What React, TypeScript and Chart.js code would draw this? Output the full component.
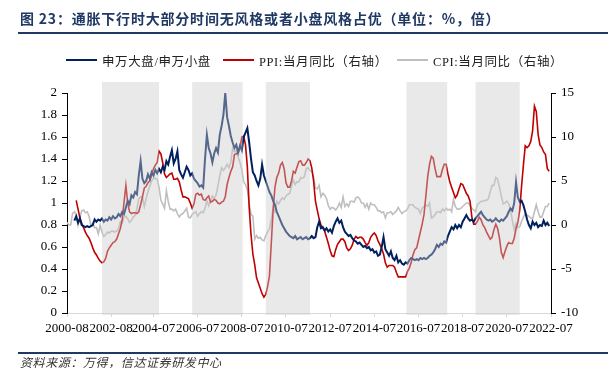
import React, { useEffect, useRef } from "react";
import { Chart, registerables } from "chart.js";

Chart.register(...registerables);

// Month index 0 = 2000-08
const xMax = 263;
const tickMonths = [0, 24, 47, 71, 95, 119, 143, 167, 191, 215, 239, 263];
const tickLabels = [
  "2000-08", "2002-08", "2004-07", "2006-07", "2008-07", "2010-07",
  "2012-07", "2014-07", "2016-07", "2018-07", "2020-07", "2022-07",
];

// 申万大盘/申万小盘 (left axis), starts at month index 4
const ratioStart = 4;
const ratio = [
  0.84, 0.88, 0.82, 0.86, 0.80, 0.79, 0.78, 0.79, 0.78, 0.79, 0.80, 0.85, 0.83,
  0.85, 0.84, 0.86, 0.83, 0.85, 0.84, 0.87, 0.85, 0.88, 0.86, 0.87, 0.90,
  0.88, 0.92, 0.90, 0.96, 1.02, 0.99, 1.07, 1.05, 1.10, 1.08, 1.25, 1.38,
  1.22, 1.18, 1.20, 1.26, 1.22, 1.28, 1.25, 1.30, 1.27, 1.31, 1.28, 1.33,
  1.30, 1.38, 1.35, 1.42, 1.48, 1.36, 1.40, 1.47, 1.30, 1.26, 1.23, 1.28,
  1.33, 1.30, 1.25, 1.27, 1.22, 1.20, 1.18, 1.15, 1.16, 1.14, 1.40, 1.62,
  1.50, 1.45, 1.37, 1.45, 1.50, 1.46, 1.62, 1.70, 1.80, 2.00, 1.78, 1.70,
  1.61, 1.55, 1.50, 1.53, 1.46, 1.52, 1.48, 1.60, 1.64, 1.68, 1.55, 1.40,
  1.28, 1.25, 1.20, 1.16, 1.22, 1.35, 1.25, 1.20, 1.15, 1.10, 1.07, 1.02,
  0.98, 0.92, 0.88, 0.84, 0.80, 0.77, 0.74, 0.72, 0.70, 0.69, 0.68, 0.70,
  0.67, 0.68, 0.69, 0.67, 0.68, 0.69, 0.67, 0.68, 0.70, 0.68, 0.69, 0.78,
  0.83, 0.77, 0.78, 0.75, 0.77, 0.74, 0.76, 0.73, 0.79, 0.83, 0.86, 0.82,
  0.84, 0.78, 0.74, 0.72, 0.70, 0.71, 0.68, 0.66, 0.65, 0.63, 0.64, 0.62,
  0.60, 0.61, 0.59, 0.60, 0.57, 0.58, 0.55, 0.56, 0.52, 0.53, 0.60, 0.69,
  0.58, 0.55, 0.52, 0.56, 0.50, 0.48, 0.52, 0.46, 0.48, 0.45, 0.44, 0.46,
  0.45, 0.48, 0.50, 0.49, 0.48, 0.49, 0.48, 0.50, 0.49, 0.50, 0.49, 0.50,
  0.52, 0.53, 0.55, 0.58, 0.62, 0.60, 0.63, 0.62, 0.65, 0.64, 0.70, 0.74,
  0.78, 0.76, 0.80, 0.77, 0.80, 0.78, 0.83, 0.86, 0.89, 0.86, 0.84, 0.85,
  0.83, 0.86, 0.88, 0.90, 0.92, 0.89, 0.87, 0.85, 0.84, 0.85, 0.83, 0.84,
  0.86, 0.84, 0.83, 0.85, 0.84, 0.86, 0.88, 0.92, 0.95, 0.93, 1.00, 1.19,
  1.05, 1.01, 1.02, 0.98, 0.92, 0.85, 0.80, 0.77, 0.83, 0.80, 0.82, 0.78,
  0.80, 0.79, 0.84, 0.80, 0.82, 0.79,
];

// PPI 当月同比 (right axis), starts at month index 5 (2001-01)
const ppiStart = 5;
const ppi = [
  2.8, 1.8, 0.8, 0.2, -0.3, -0.8, -1.2, -1.5, -2.0, -2.6, -3.1, -3.4,
  -3.8, -4.1, -4.3, -4.2, -3.8, -3.0, -2.6, -2.3, -2.0, -1.9, -1.6, -1.0,
  -0.4, 0.6, 2.6, 4.5, 2.5, 1.5, 1.3, 1.4, 1.4, 1.3, 1.5, 2.3,
  3.2, 4.2, 4.4, 4.8, 5.0, 5.7, 6.4, 6.8, 7.1, 8.4, 8.1, 7.1,
  5.8, 5.4, 5.6, 5.8, 5.9, 5.2, 5.2, 5.3, 4.9, 4.0, 3.2, 3.2,
  3.1, 3.0, 2.5, 1.9, 2.4, 3.5, 3.6, 3.4, 3.5, 2.9, 2.8, 3.1,
  3.3, 2.6, 2.7, 2.9, 2.8, 2.5, 2.4, 2.6, 2.7, 3.2, 4.6, 5.4,
  6.1, 6.6, 8.0, 8.1, 8.2, 8.8, 10.0, 10.1, 9.1, 6.6, 2.0, -1.1,
  -3.3, -4.5, -6.0, -6.6, -7.2, -7.8, -8.2, -7.9, -7.0, -5.8, -2.1, 1.7,
  4.3, 5.4, 5.9, 6.8, 7.1, 6.4, 4.8, 4.3, 4.3, 5.0, 6.1, 5.9,
  6.6, 7.2, 7.3, 6.8, 6.8, 7.1, 7.5, 7.3, 6.5, 5.0, 2.7, 1.7,
  0.7, 0.0, -0.3, -0.7, -1.4, -2.1, -2.9, -3.5, -3.6, -2.8, -2.2, -1.9,
  -1.6, -1.6, -1.9, -2.6, -2.9, -2.7, -2.3, -1.6, -1.3, -1.5, -1.4, -1.4,
  -1.6, -2.0, -2.3, -2.0, -1.4, -1.1, -0.9, -1.2, -1.8, -2.2, -2.7, -3.3,
  -4.3, -4.8, -4.6, -4.6, -4.6, -4.8, -5.4, -5.9, -5.9, -5.9, -5.9, -5.9,
  -5.3, -4.9, -4.3, -3.4, -2.8, -2.6, -1.7, -0.8, 0.1, 1.2, 3.3, 5.5,
  6.9, 7.8, 7.6, 6.4, 5.5, 5.5, 5.5, 6.3, 6.9, 6.9, 5.8, 4.9,
  4.3, 3.7, 3.1, 3.4, 4.1, 4.7, 4.6, 4.1, 3.6, 3.3, 2.7, 0.9,
  0.1, 0.1, 0.4, 0.9, 0.6, 0.0, -0.3, -0.8, -1.2, -1.6, -1.4, -0.5,
  0.1, -0.4, -1.5, -3.1, -3.7, -3.0, -2.4, -2.0, -2.1, -2.1, -1.5, -0.4,
  0.3, 1.7, 4.4, 6.8, 9.0, 8.8, 9.0, 9.5, 10.7, 13.5, 12.9, 10.3,
  9.1, 8.8, 8.3, 8.0, 6.4, 6.1,
];

// CPI 当月同比 (right axis), starts at month index 0 (2000-08)
const cpiStart = 0;
const cpi = [
  0.3, 0.0, 0.0, 1.3, 1.5,
  1.2, 0.0, 0.8, 1.6, 1.7, 1.4, 1.5, 1.0, -0.1, 0.2, -0.3, -0.3,
  -1.0, 0.0, -0.8, -1.3, -1.1, -0.8, -0.9, -0.7, -0.7, -0.8, -0.7, -0.4,
  0.4, 0.2, 0.9, 1.0, 0.7, 0.3, 0.5, 0.9, 1.1, 1.8, 3.0, 3.2,
  3.2, 2.1, 3.0, 3.8, 4.4, 5.0, 5.3, 5.3, 5.2, 4.3, 2.8, 2.4,
  1.9, 3.9, 2.7, 1.8, 1.8, 1.6, 1.8, 1.3, 0.9, 1.2, 1.3, 1.6,
  1.9, 0.9, 0.8, 1.2, 1.4, 1.5, 1.0, 1.3, 1.5, 1.4, 1.9, 2.8,
  2.2, 2.7, 3.3, 3.0, 3.4, 4.4, 5.6, 6.5, 6.2, 6.5, 6.9, 6.5,
  7.1, 8.7, 8.3, 8.5, 7.7, 7.1, 6.3, 4.9, 4.6, 4.0, 2.4, 1.2,
  1.0, -1.6, -1.2, -1.5, -1.4, -1.7, -1.8, -1.2, -0.8, -0.5, 0.6, 1.9,
  1.5, 2.7, 2.4, 2.8, 3.1, 2.9, 3.3, 3.5, 3.6, 4.4, 5.1, 4.6,
  4.9, 4.9, 5.4, 5.3, 5.5, 6.4, 6.5, 6.2, 6.1, 5.5, 4.2, 4.1,
  4.5, 3.2, 3.6, 3.4, 3.0, 2.2, 1.8, 2.0, 1.9, 1.7, 2.0, 2.5,
  2.0, 3.2, 2.1, 2.4, 2.1, 2.7, 2.7, 2.6, 3.1, 3.2, 3.0, 2.5,
  2.5, 2.0, 2.4, 1.8, 2.5, 2.3, 2.3, 2.0, 1.6, 1.6, 1.4, 1.5,
  0.8, 1.4, 1.4, 1.5, 1.2, 1.4, 1.6, 2.0, 1.6, 1.3, 1.5, 1.6,
  1.8, 2.3, 2.3, 2.3, 2.0, 1.9, 1.8, 1.3, 1.9, 2.1, 2.3, 2.1,
  2.5, 0.8, 0.9, 1.2, 1.5, 1.5, 1.4, 1.8, 1.6, 1.9, 1.7, 1.8,
  1.5, 2.9, 2.1, 1.8, 1.8, 1.9, 2.1, 2.3, 2.5, 2.5, 2.2, 1.9,
  1.7, 1.5, 2.3, 2.5, 2.7, 2.7, 2.8, 2.8, 3.0, 3.8, 4.5, 4.5,
  5.4, 5.2, 4.3, 3.3, 2.4, 2.5, 2.7, 2.4, 1.7, 0.5, -0.5, 0.2,
  -0.3, -0.2, 0.4, 0.9, 1.3, 1.1, 1.0, 0.8, 0.7, 1.5, 2.3, 1.5,
  0.9, 0.9, 1.5, 2.1, 2.1, 2.5,
];

// Shaded periods (month index)
const bandStart = [19, 68, 108, 184.5, 222];
const bandEnd = [50, 95.5, 132, 206.6, 246];
const bandTopValue = 2.1;

const seriesNames = ["申万大盘/申万小盘", "PPI:当月同比（右轴）", "CPI:当月同比（右轴）"];
const seriesColors = ["#002060", "#C00000", "#BFBFBF"];

const toPoints = (start: number, arr: number[]) => arr.map((v, i) => ({ x: start + i, y: v }));

const tickFont = { family: '"Liberation Serif", "Times New Roman", serif', size: 13 };

const bandPlugin = {
  id: "bands",
  afterDatasetsDraw(chart: any) {
    const { ctx, scales } = chart;
    const xs = scales.x;
    const ys = scales.y;
    ctx.save();
    ctx.fillStyle = "rgba(202,202,202,0.42)";
    const top = ys.getPixelForValue(bandTopValue);
    const bottom = ys.getPixelForValue(0) + 2;
    for (let i = 0; i < bandStart.length; i++) {
      const x1 = xs.getPixelForValue(bandStart[i]);
      const x2 = xs.getPixelForValue(bandEnd[i]);
      ctx.fillRect(x1, top, x2 - x1, bottom - top);
    }
    ctx.restore();
  },
};

function ChartCanvas() {
  const ref = useRef<HTMLCanvasElement | null>(null);
  useEffect(() => {
    if (!ref.current) return;
    const chart = new Chart(ref.current, {
      type: "line",
      data: {
        datasets: [
          {
            label: seriesNames[0],
            data: toPoints(ratioStart, ratio),
            borderColor: seriesColors[0],
            borderWidth: 2,
            pointRadius: 0,
            yAxisID: "y",
          },
          {
            label: seriesNames[1],
            data: toPoints(ppiStart, ppi),
            borderColor: seriesColors[1],
            borderWidth: 1.6,
            pointRadius: 0,
            yAxisID: "y1",
          },
          {
            label: seriesNames[2],
            data: toPoints(cpiStart, cpi),
            borderColor: seriesColors[2],
            borderWidth: 1.6,
            pointRadius: 0,
            yAxisID: "y1",
          },
        ],
      },
      options: {
        animation: false,
        responsive: false,
        devicePixelRatio: 1,
        layout: { padding: { top: 93, left: 0, right: 0, bottom: 0 } },
        plugins: { legend: { display: false }, tooltip: { enabled: false } },
        elements: { line: { tension: 0 } },
        scales: {
          x: {
            type: "linear",
            min: 0,
            max: xMax,
            afterBuildTicks: (s: any) => {
              s.ticks = tickMonths.map((v) => ({ value: v }));
            },
            afterFit: (s: any) => {
              s.height = 61;
            },
            ticks: {
              autoSkip: false,
              maxRotation: 0,
              minRotation: 0,
              padding: 4,
              color: "#000",
              font: tickFont,
              callback: (v: any) => {
                const i = tickMonths.indexOf(Number(v));
                return i >= 0 ? tickLabels[i] : "";
              },
            },
            grid: { drawOnChartArea: false, drawTicks: true, tickLength: 4, color: "#d9d9d9" },
            border: { color: "#d9d9d9" },
          },
          y: {
            position: "left",
            min: 0,
            max: 2,
            afterFit: (s: any) => {
              s.width = 67;
            },
            ticks: {
              stepSize: 0.2,
              padding: 5,
              color: "#000",
              font: tickFont,
              callback: (v: any) => String(Math.round(Number(v) * 10) / 10),
            },
            grid: { drawOnChartArea: false, drawTicks: true, tickLength: 5, color: "#000" },
            border: { color: "#000" },
          },
          y1: {
            position: "right",
            min: -10,
            max: 15,
            afterFit: (s: any) => {
              s.width = 60;
            },
            ticks: { stepSize: 5, padding: 5, color: "#000", font: tickFont },
            grid: { drawOnChartArea: false, drawTicks: true, tickLength: 5, color: "#000" },
            border: { color: "#000" },
          },
        },
      },
      plugins: [bandPlugin],
    } as any);
    return () => chart.destroy();
  }, []);
  return <canvas ref={ref} width={611} height={374} style={{ position: "absolute", left: 0, top: 0, width: 611, height: 374 }} />;
}

const legendX = [66, 223, 397];

export default function App() {
  return (
    <div style={{ position: "fixed", left: 0, top: 0, width: 611, height: 374, background: "#fff", overflow: "hidden" }}>
      <ChartCanvas />
      <div
        style={{
          position: "absolute",
          left: 20,
          top: 8,
          fontFamily: '"Noto Sans CJK SC", sans-serif',
          fontWeight: 700,
          fontSize: 14,
          letterSpacing: 0.8,
          lineHeight: "20px",
          color: "#1F3864",
          whiteSpace: "nowrap",
        }}
      >
        图 23：通胀下行时大部分时间无风格或者小盘风格占优（单位：%，倍）
      </div>
      <div style={{ position: "absolute", left: 18, top: 32, width: 590, height: 2, background: "#1F3864" }} />
      {seriesNames.map((name, i) => (
        <div
          key={name}
          style={{ position: "absolute", left: legendX[i], top: 51, height: 18, display: "flex", alignItems: "center", whiteSpace: "nowrap" }}
        >
          <div style={{ width: 31, height: 2, background: seriesColors[i], marginRight: 5 }} />
          <span
            style={{
              fontFamily: '"Liberation Serif", "Noto Sans CJK SC", serif',
              fontSize: 12.5,
              letterSpacing: 0.6,
              color: "#222",
            }}
          >
            {name}
          </span>
        </div>
      ))}
      <div style={{ position: "absolute", left: 18, top: 352, width: 590, height: 2, background: "#1F3864" }} />
      <div
        style={{
          position: "absolute",
          left: 20,
          top: 354,
          fontFamily: '"Noto Sans CJK SC", sans-serif',
          fontStyle: "italic",
          fontSize: 12,
          letterSpacing: 0.6,
          lineHeight: "16px",
          color: "#333",
          whiteSpace: "nowrap",
        }}
      >
        资料来源：万得，信达证券研发中心
      </div>
    </div>
  );
}
